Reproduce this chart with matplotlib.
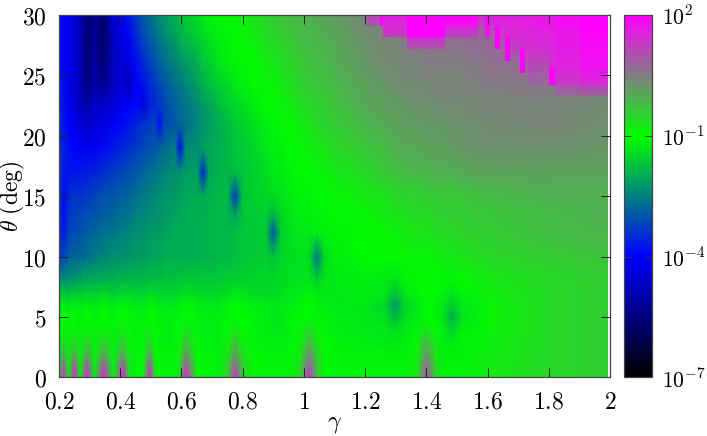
import numpy as np
import matplotlib
matplotlib.use("Agg")
import matplotlib.pyplot as plt
from matplotlib.colors import LinearSegmentedColormap, LogNorm

plt.rcParams["mathtext.fontset"] = "cm"
plt.rcParams["font.size"] = 17

# smooth field: log10 of the value at these nodes
gamma = [.20, .214, .232, .249, .27, .29, .317, .345, .377, .41,
         .426, .45, .475, .497, .512,
         .528, .545, .56, .578, .595,
         .614, .652, .67, .69, .72,
         .75, .775, .80, .84, .875,
         .90, .925, .96, .99, 1.017,
         1.043, 1.068, 1.10, 1.2, 1.265,
         1.298, 1.33, 1.37, 1.40, 1.43,
         1.455, 1.484, 1.515, 1.6, 1.8, 1.992]
theta = [0, 1, 2, 3, 4, 5, 6, 7, 8, 10, 12, 13.5, 15, 17, 19, 21, 22.5, 24, 26, 28, 30]
log_vals = [
    [-1.1, 1.6, -1.1, 1.6, -1.1, 1.6, -1.1, 1.6, -1.1, 1.6,
     -.5, -1.1, -1.1, 1.6, -.6,
     -1.05, -1.15, -1.15, -1.1, -.6,
     1.6, -1.0, -1.15, -1.15, -1.15,
     -.5, 1.5, -.4, -1.05, -1.15,
     -1.15, -1.15, -1.1, -.5, 1.5,
     -.3, -1.0, -1.1, -1.15, -1.15,
     -1.15, -1.1, -.8, 1.2, -.5,
     -1.1, -1.15, -1.1, -.8, -.55, -.45],
    [-1.1, 1.0, -1.1, 1.0, -1.1, 1.0, -1.1, 1.0, -1.1, 1.0,
     -.6, -1.1, -1.1, 1.0, -.7,
     -1.05, -1.15, -1.15, -1.1, -.7,
     1.0, -1.0, -1.15, -1.15, -1.15,
     -.55, .8, -.5, -1.05, -1.15,
     -1.15, -1.15, -1.1, -.55, .9,
     -.35, -1.0, -1.1, -1.15, -1.15,
     -1.15, -1.1, -.8, .7, -.55,
     -1.1, -1.15, -1.1, -.8, -.55, -.45],
    [-1.1, .0, -1.1, .0, -1.1, .0, -1.1, .0, -1.1, .1,
     -.75, -1.1, -1.1, .05, -.85,
     -1.05, -1.15, -1.15, -1.1, -.8,
     .15, -1.0, -1.15, -1.15, -1.15,
     -.7, .1, -.65, -1.05, -1.15,
     -1.15, -1.15, -1.1, -.7, .3,
     -.5, -1.0, -1.1, -1.15, -1.15,
     -1.2, -1.1, -.85, .2, -.7,
     -1.1, -1.2, -1.1, -.85, -.55, -.45],
    [-1.1, -.6, -1.1, -.55, -1.1, -.5, -1.1, -.5, -1.1, -.4,
     -.85, -1.1, -1.15, -.45, -1.0,
     -1.1, -1.2, -1.2, -1.15, -.95,
     -.35, -1.05, -1.2, -1.2, -1.2,
     -.85, -.35, -.85, -1.1, -1.2,
     -1.2, -1.2, -1.15, -.85, -.25,
     -.75, -1.05, -1.15, -1.2, -1.25,
     -1.3, -1.2, -.95, -.2, -.85,
     -1.2, -1.3, -1.15, -.85, -.55, -.45],
    [-1.1, -.85, -1.1, -.85, -1.1, -.85, -1.1, -.85, -1.1, -.8,
     -.95, -1.1, -1.15, -.8, -1.05,
     -1.1, -1.2, -1.2, -1.15, -1.05,
     -.7, -1.1, -1.2, -1.2, -1.2,
     -1.0, -.7, -1.0, -1.1, -1.2,
     -1.25, -1.25, -1.15, -.95, -.6,
     -.9, -1.1, -1.2, -1.25, -1.3,
     -1.4, -1.3, -1.1, -.7, -1.0,
     -1.2, -1.55, -1.2, -.9, -.55, -.4],
    [-1.1, -1.0, -1.15, -1.0, -1.15, -1.0, -1.15, -1.0, -1.15, -1.0,
     -1.05, -1.15, -1.15, -1.0, -1.05,
     -1.1, -1.2, -1.2, -1.15, -1.1,
     -1.0, -1.1, -1.2, -1.2, -1.2,
     -1.1, -1.0, -1.05, -1.1, -1.2,
     -1.25, -1.25, -1.15, -1.05, -1.0,
     -1.1, -1.15, -1.2, -1.25, -1.4,
     -1.8, -1.4, -1.2, -1.0, -1.15,
     -1.35, -2.0, -1.35, -.9, -.55, -.4],
    [-1.35, -1.2, -1.35, -1.2, -1.3, -1.2, -1.3, -1.15, -1.3, -1.1,
     -1.2, -1.3, -1.3, -1.1, -1.2,
     -1.25, -1.3, -1.3, -1.25, -1.2,
     -1.05, -1.2, -1.3, -1.3, -1.25,
     -1.15, -1.05, -1.15, -1.2, -1.3,
     -1.3, -1.3, -1.2, -1.1, -1.02,
     -1.15, -1.2, -1.25, -1.3, -1.45,
     -2.2, -1.45, -1.25, -1.0, -1.15,
     -1.25, -1.6, -1.25, -.9, -.55, -.4],
    [-1.7, -1.6, -1.75, -1.6, -1.7, -1.55, -1.65, -1.5, -1.6, -1.45,
     -1.5, -1.55, -1.55, -1.4, -1.45,
     -1.5, -1.55, -1.55, -1.5, -1.5,
     -1.35, -1.45, -1.5, -1.5, -1.45,
     -1.4, -1.3, -1.35, -1.4, -1.4,
     -1.4, -1.4, -1.3, -1.25, -1.15,
     -1.25, -1.25, -1.25, -1.2, -1.3,
     -1.7, -1.3, -1.1, -1.0, -1.05,
     -1.15, -1.3, -1.1, -.85, -.55, -.4],
    [-2.2, -2.3, -2.15, -2.15, -2.05, -2.0, -1.95, -1.9, -1.9, -1.85,
     -1.85, -1.8, -1.8, -1.75, -1.75,
     -1.75, -1.7, -1.7, -1.7, -1.7,
     -1.65, -1.65, -1.65, -1.65, -1.6,
     -1.55, -1.55, -1.55, -1.5, -1.45,
     -1.45, -1.4, -1.35, -1.35, -1.3,
     -1.55, -1.3, -1.25, -1.2, -1.25,
     -1.35, -1.15, -1.05, -1.0, -1.05,
     -1.05, -1.1, -1.0, -.8, -.55, -.4],
    [-3.0, -3.2, -2.9, -2.8, -2.75, -2.7, -2.55, -2.45, -2.35, -2.3,
     -2.25, -2.2, -2.15, -2.1, -2.05,
     -2.05, -2.0, -2.0, -2.0, -2.0,
     -1.95, -1.95, -1.9, -1.9, -1.85,
     -1.8, -1.75, -1.7, -1.6, -1.55,
     -1.7, -1.5, -1.4, -1.35, -1.4,
     -2.6, -1.4, -1.2, -1.05, -1.0,
     -1.0, -.95, -.9, -.9, -.85,
     -.8, -.75, -.7, -.6, -.45, -.3],
    [-3.2, -3.8, -3.2, -3.1, -3.0, -2.9, -2.8, -2.7, -2.6, -2.5,
     -2.45, -2.35, -2.3, -2.2, -2.2,
     -2.15, -2.1, -2.05, -2.0, -2.0,
     -1.95, -1.95, -1.9, -1.9, -1.85,
     -1.8, -1.75, -1.7, -1.6, -1.6,
     -3.0, -1.55, -1.35, -1.3, -1.25,
     -1.2, -1.15, -1.1, -1.0, -.9,
     -.85, -.75, -.72, -.7, -.62,
     -.58, -.55, -.52, -.45, -.25, -.15],
    [-3.2, -3.85, -3.35, -3.25, -3.2, -3.1, -3.0, -2.9, -2.8, -2.7,
     -2.65, -2.5, -2.45, -2.35, -2.3,
     -2.25, -2.2, -2.15, -2.1, -2.05,
     -2.0, -2.0, -1.95, -1.9, -1.85,
     -1.8, -2.1, -1.7, -1.6, -1.55,
     -1.9, -1.5, -1.3, -1.2, -1.2,
     -1.15, -1.1, -1.05, -.9, -.8,
     -.72, -.62, -.58, -.55, -.5,
     -.47, -.45, -.42, -.35, -.18, -.1],
    [-3.2, -3.9, -3.5, -3.4, -3.35, -3.3, -3.2, -3.05, -2.95, -2.85,
     -2.8, -2.65, -2.55, -2.45, -2.4,
     -2.3, -2.25, -2.2, -2.15, -2.1,
     -2.05, -2.0, -1.95, -1.9, -1.85,
     -1.8, -3.3, -1.7, -1.55, -1.45,
     -1.4, -1.35, -1.2, -1.15, -1.1,
     -1.05, -1.0, -.95, -.8, -.68,
     -.6, -.52, -.47, -.45, -.4,
     -.37, -.35, -.33, -.25, -.1, -.05],
    [-3.2, -3.7, -3.7, -3.7, -3.7, -3.65, -3.6, -3.45, -3.3, -3.15,
     -3.1, -2.95, -2.85, -2.7, -2.65,
     -2.55, -2.45, -2.4, -2.3, -2.25,
     -2.2, -2.1, -3.6, -2.05, -1.9,
     -1.8, -1.75, -1.7, -1.55, -1.4,
     -1.3, -1.25, -1.1, -1.05, -1.0,
     -.9, -.85, -.75, -.55, -.38,
     -.3, -.22, -.15, -.15, -.1,
     -.07, -.05, -.02, .05, .1, .05],
    [-3.3, -3.6, -3.9, -4.0, -4.1, -4.15, -4.1, -3.9, -3.7, -3.5,
     -3.45, -3.3, -3.15, -3.0, -2.95,
     -2.85, -2.75, -2.65, -2.5, -3.9,
     -2.4, -2.3, -2.1, -2.05, -1.95,
     -1.8, -1.7, -1.65, -1.5, -1.3,
     -1.2, -1.15, -1.0, -.95, -.85,
     -.75, -.68, -.6, -.35, -.18,
     -.1, -.02, .02, .05, .08,
     .12, .15, .18, .25, .25, .2],
    [-3.4, -3.7, -4.0, -4.2, -4.4, -4.7, -4.4, -4.4, -4.1, -3.9,
     -3.8, -3.6, -3.4, -3.3, -3.2,
     -3.9, -3.1, -3.1, -2.95, -2.85,
     -2.7, -2.5, -2.25, -2.2, -1.95,
     -1.8, -1.65, -1.55, -1.35, -1.2,
     -1.1, -1.05, -.95, -.8, -.7,
     -.6, -.5, -.4, -.15, .0,
     .05, .12, .15, .18, .2,
     .23, .25, .28, .35, .4, .3],
    [-3.5, -3.8, -4.1, -4.4, -4.7, -5.0, -4.5, -4.6, -4.4, -4.1,
     -4.0, -3.9, -4.3, -3.6, -3.5,
     -3.35, -3.2, -3.05, -2.9, -2.75,
     -2.6, -2.4, -2.15, -2.1, -1.8,
     -1.65, -1.5, -1.4, -1.2, -1.05,
     -1.0, -.95, -.8, -.65, -.55,
     -.5, -.4, -.3, .0, .12,
     .15, .22, .25, .28, .3,
     .33, .35, .38, .45, .45, .35],
    [-3.6, -3.9, -4.2, -4.5, -4.8, -5.5, -5.0, -5.3, -4.7, -4.4,
     -4.9, -4.1, -3.9, -3.5, -3.35,
     -3.2, -3.05, -2.9, -2.75, -2.6,
     -2.45, -2.2, -1.95, -1.85, -1.6,
     -1.45, -1.3, -1.2, -1.05, -.95,
     -.9, -.8, -.65, -.5, -.45,
     -.35, -.28, -.2, .1, .22,
     .25, .32, .35, .38, .4,
     .42, .4, .42, .5, .55, .45],
    [-3.7, -4.0, -4.2, -4.4, -4.8, -5.6, -5.1, -5.6, -4.8, -4.5,
     -4.4, -3.9, -3.55, -3.25, -3.1,
     -2.9, -2.75, -2.6, -2.45, -2.3,
     -2.15, -1.95, -1.7, -1.6, -1.35,
     -1.2, -1.1, -1.05, -1.0, -.8,
     -.75, -.65, -.5, -.4, -.3,
     -.25, -.18, -.05, .2, .32,
     .35, .42, .45, .48, .5,
     .5, .5, .52, .6, .8, .95],
    [-3.7, -4.0, -4.2, -4.4, -4.8, -5.6, -5.2, -5.8, -4.7, -4.3,
     -4.1, -3.6, -3.2, -2.95, -2.8,
     -2.6, -2.45, -2.3, -2.15, -2.0,
     -1.85, -1.65, -1.45, -1.35, -1.2,
     -1.1, -1.0, -.95, -.85, -.65,
     -.6, -.48, -.35, -.25, -.2,
     -.15, -.08, .0, .3, .42,
     .45, .55, .6, .63, .65,
     .68, .7, .72, .8, .95, 1.1],
    [-3.7, -4.0, -4.2, -4.4, -4.8, -5.6, -5.2, -5.8, -4.5, -4.2,
     -3.8, -3.3, -2.95, -2.65, -2.5,
     -2.35, -2.2, -2.05, -1.9, -1.75,
     -1.6, -1.35, -1.25, -1.15, -1.05,
     -1.0, -.95, -.85, -.65, -.48,
     -.4, -.32, -.2, -.12, -.05,
     .0, .08, .15, .45, .55,
     .6, .7, .75, .78, .8,
     .83, .85, .88, 1, 1.1, 1.2],
]

# blocky saturated patch in the top right corner (cell edges, log10 values, nan = no cell)
block_gamma = [1.207, 1.249, 1.259, 1.337, 1.461, 1.569, 1.592, 1.608, 1.625, 1.641, 1.658, 1.674, 1.706, 1.723,
               1.733, 1.749, 1.801, 1.821, 1.903, 1.992]
block_theta = [30, 29.5, 29.1, 28.65, 28.2, 27.7, 27.2, 26.7, 26.2, 25.7, 25.2, 24.7, 24.2, 23.75, 23.3]
n = np.nan
block_vals = [
    [1.1, 2, 1.6, 2, 1.9, 1.4, 1.85, 1.55, 1.6, 1.55, 1.6, 1.55, 1.6, 1.6, 1.6, 1.65, 1.7, 1.8, 2],
    [1.0, 2, 1.5, 2, 1.85, 1.3, 1.85, 1.5, 1.6, 1.5, 1.6, 1.55, 1.6, 1.6, 1.6, 1.65, 1.7, 1.8, 2],
    [n, n, 1.45, 2, 1.45, n, 1.85, 1.2, 1.9, 1.45, 1.5, 1.5, 1.55, 1.55, 1.55, 1.6, 1.65, 1.75, 1.95],
    [n, n, 1.25, 2, 1.25, n, 1.7, 1.0, 2, 1.3, 1.6, 1.45, 1.5, 1.5, 1.5, 1.55, 1.6, 1.7, 1.9],
    [n, n, n, 1.3, n, n, n, n, 2, 1.1, 2, 1.35, 1.45, 1.45, 1.45, 1.5, 1.55, 1.7, 1.9],
    [n, n, n, 1.05, n, n, n, n, 2, .9, 2, 1.25, 1.4, 1.4, 1.4, 1.45, 1.5, 1.65, 1.85],
    [n, n, n, n, n, n, n, n, n, n, 2, 1.05, 2, 1.3, 1.35, 1.35, 1.45, 1.6, 1.8],
    [n, n, n, n, n, n, n, n, n, n, 2, .85, 2, 1.15, 1.25, 1.25, 1.4, 1.6, 1.8],
    [n, n, n, n, n, n, n, n, n, n, n, n, 2, 1.0, 1.15, 1.1, 1.4, 1.55, 1.75],
    [n, n, n, n, n, n, n, n, n, n, n, n, 2, n, 1.05, 1.0, 2, 1.55, 1.7],
    [n, n, n, n, n, n, n, n, n, n, n, n, n, n, .95, .85, 2, 1.4, 1.6],
    [n, n, n, n, n, n, n, n, n, n, n, n, n, n, .9, .8, 2, 1.3, 1.5],
    [n, n, n, n, n, n, n, n, n, n, n, n, n, n, n, n, n, 1.0, 1.1],
    [n, n, n, n, n, n, n, n, n, n, n, n, n, n, n, n, n, .8, .85],
]

xticks = [.2, .4, .6, .8, 1, 1.2, 1.4, 1.6, 1.8, 2]
xlabels = ["0.2", "0.4", "0.6", "0.8", "1", "1.2", "1.4", "1.6", "1.8", "2"]
yticks = [0, 5, 10, 15, 20, 25, 30]
cbar_ticks = [1e-7, 1e-4, 1e-1, 1e2]
cbar_labels = ["$10^{-7}$", "$10^{-4}$", "$10^{-1}$", "$10^{2}$"]

W, H = 707, 436
palette = LinearSegmentedColormap.from_list("pal", ["black", "blue", "lime", "magenta"], N=128)
norm = LogNorm(1e-7, 1e2)

fig = plt.figure(figsize=(W / 100, H / 100), dpi=100)
ax = fig.add_axes([59 / W, 1 - 377.3 / H, 551 / W, 362.3 / H])
cax = fig.add_axes([624 / W, 1 - 377.3 / H, 28 / W, 362.3 / H])

mesh = ax.pcolormesh(gamma, theta, 10.0 ** np.array(log_vals), cmap=palette, norm=norm, shading="gouraud")
ax.pcolormesh(block_gamma, block_theta, np.ma.masked_invalid(10.0 ** np.array(block_vals)),
              cmap=palette, norm=norm, shading="flat")

ax.set_xlim(.2, 2)
ax.set_ylim(0, 30)
ax.set_xticks(xticks)
ax.set_xticklabels(["$%s$" % s for s in xlabels])
ax.set_yticks(yticks)
ax.set_yticklabels(["$%d$" % v for v in yticks])
ax.tick_params(direction="in", length=6.5, width=.7, top=True, right=True, color="#222222", pad=9)
for s in ax.spines.values():
    s.set_linewidth(.9)
    s.set_color("#444444")
ax.set_xlabel(r"$\gamma$", labelpad=-2)
ax.set_ylabel(r"$\theta\ \mathrm{(deg)}$", labelpad=-4)

cb = fig.colorbar(mesh, cax=cax)
cb.set_ticks(cbar_ticks)
cb.set_ticklabels(cbar_labels, fontsize=15.5)
cb.minorticks_off()
cax.tick_params(direction="in", length=5, width=.7, left=True, right=True, color="#333333", pad=7)
cb.outline.set_linewidth(.9)
cb.outline.set_edgecolor("#444444")

fig.savefig("out.png", dpi=100)
